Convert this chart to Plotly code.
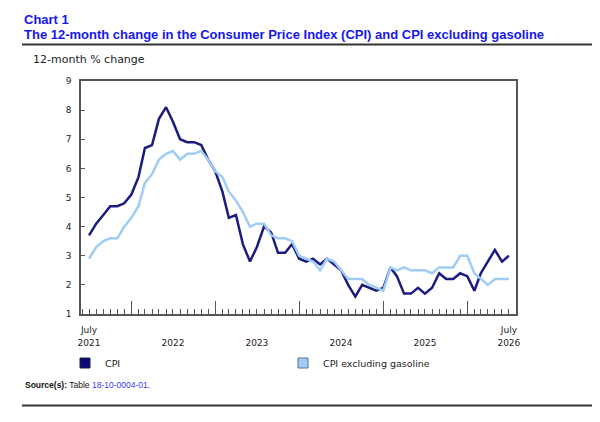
import pandas as pd
import plotly.graph_objects as go

# monthly observations, July 2021 to July 2026
months = pd.date_range("2021-07-01", periods=61, freq="MS")

cpi = [3.7, 4.1, 4.4, 4.7, 4.7, 4.8, 5.1, 5.7, 6.7, 6.8, 7.7, 8.1,
       7.6, 7.0, 6.9, 6.9, 6.8, 6.3, 5.9, 5.2, 4.3, 4.4, 3.4, 2.8,
       3.3, 4.0, 3.8, 3.1, 3.1, 3.4, 2.9, 2.8, 2.9, 2.7, 2.9, 2.7,
       2.5, 2.0, 1.6, 2.0, 1.9, 1.8, 1.9, 2.6, 2.3, 1.7, 1.7, 1.9,
       1.7, 1.9, 2.4, 2.2, 2.2, 2.4, 2.3, 1.8, 2.4, 2.8, 3.2, 2.8,
       3.0]

cpi_ex_gas = [2.9, 3.3, 3.5, 3.6, 3.6, 4.0, 4.3, 4.7, 5.5, 5.8, 6.3, 6.5,
              6.6, 6.3, 6.5, 6.5, 6.6, 6.3, 5.9, 5.7, 5.2, 4.9, 4.5, 4.0,
              4.1, 4.1, 3.7, 3.6, 3.6, 3.5, 3.0, 2.9, 2.8, 2.5, 2.9, 2.8,
              2.5, 2.2, 2.2, 2.2, 2.0, 1.9, 1.8, 2.6, 2.5, 2.6, 2.5, 2.5,
              2.5, 2.4, 2.6, 2.6, 2.6, 3.0, 3.0, 2.4, 2.2, 2.0, 2.2, 2.2,
              2.2]

year_ticks = ["2021-07-01", "2022-07-01", "2023-07-01", "2024-07-01", "2025-07-01", "2026-07-01"]
year_labels = ["2021", "2022", "2023", "2024", "2025", "2026"]
month_ticks = ["2021-07-01", "2026-07-01"]
month_labels = ["July", "July"]
jan_ticks = ["2022-01-01", "2023-01-01", "2024-01-01", "2025-01-01", "2026-01-01"]

DARK = "#1b1b80"
LIGHT = "#9fcdf5"
TITLE_BLUE = "#1616f0"
xrange = ["2021-05-27", "2026-08-01"]

# plot area in screen pixels: x 81..516, y 81..314
# (the page body adds an 8px margin, so the figure itself sits 8px in)
L, R, T, B = 81, 516, 81, 314
OFF = 8


def px_x(px):
    return (px - L) / (R - L)


def px_y(py):
    return (B - py) / (B - T)


fig = go.Figure()
fig.add_trace(go.Scatter(x=months, y=cpi, mode="lines", name="CPI",
                         line=dict(color=DARK, width=2.5), showlegend=False))
fig.add_trace(go.Scatter(x=months, y=cpi_ex_gas, mode="lines", name="CPI excluding gasoline",
                         line=dict(color=LIGHT, width=2.5), showlegend=False, xaxis="x2"))
# legend swatches
fig.add_trace(go.Scatter(x=[None], y=[None], mode="markers", name="CPI", xaxis="x3",
                         marker=dict(symbol="square", size=10, color="#0a0a78",
                                     line=dict(color="#202040", width=1))))
fig.add_trace(go.Scatter(x=[None], y=[None], mode="markers", name="CPI excluding gasoline", xaxis="x3",
                         marker=dict(symbol="square", size=10, color=LIGHT,
                                     line=dict(color="#5a7090", width=1))))

tick_font = dict(family="DejaVu Sans, Verdana", size=9, color="#222")

fig.update_layout(
    width=600, height=422,
    margin=dict(l=L - OFF, r=600 - R + OFF, t=T - OFF, b=422 - B + OFF),
    paper_bgcolor="white", plot_bgcolor="white",
    xaxis=dict(type="date", range=xrange, tickvals=jan_ticks, showticklabels=False,
               ticks="inside", ticklen=13, tickcolor="#555", tickwidth=1,
               minor=dict(dtick="M1", tick0="2021-01-01", ticks="inside", ticklen=5,
                          tickcolor="#555", tickwidth=1, showgrid=False),
               showline=True, linecolor="#555", linewidth=1.5, mirror=True,
               showgrid=False, zeroline=False),
    xaxis2=dict(type="date", range=xrange, overlaying="x", anchor="y", side="bottom",
                tickvals=year_ticks, ticktext=year_labels, ticks="", tickfont=tick_font,
                ticklabelstandoff=22, showline=False, showgrid=False, zeroline=False),
    xaxis3=dict(type="date", range=xrange, overlaying="x", anchor="y", side="bottom",
                tickvals=month_ticks, ticktext=month_labels, ticks="", tickfont=tick_font,
                ticklabelstandoff=9, showline=False, showgrid=False, zeroline=False),
    yaxis=dict(range=[1, 9], dtick=1, ticks="inside", ticklen=4, tickcolor="#555",
               tickfont=tick_font, ticklabelstandoff=6,
               showline=True, linecolor="#555", linewidth=1.5, mirror=True,
               showgrid=False, zeroline=False),
    legend=dict(orientation="h", x=px_x(65), xanchor="left", y=px_y(363), yanchor="middle",
                font=dict(family="DejaVu Sans, Verdana", size=9.5, color="#222"),
                entrywidth=173, entrywidthmode="pixels", itemwidth=30,
                bgcolor="rgba(0,0,0,0)", tracegroupgap=0),
    showlegend=True,
)

title_font = dict(family="Liberation Sans, Arial", size=13, color=TITLE_BLUE)
fig.add_annotation(text="<b>Chart 1</b>", x=px_x(22), y=px_y(19.5), xref="paper", yref="paper",
                   xanchor="left", yanchor="middle", showarrow=False, font=title_font)
fig.add_annotation(text="<b>The 12-month change in the Consumer Price Index (CPI) and CPI excluding gasoline</b>",
                   x=px_x(22), y=px_y(34.5), xref="paper", yref="paper",
                   xanchor="left", yanchor="middle", showarrow=False, font=title_font)
fig.add_annotation(text="12-month % change", x=px_x(31), y=px_y(59), xref="paper", yref="paper",
                   xanchor="left", yanchor="middle", showarrow=False,
                   font=dict(family="DejaVu Sans, Verdana", size=11, color="#222"))
fig.add_annotation(text="<b>Source(s):</b> Table <span style='color:#3a3aff'>18-10-0004-01</span>.",
                   x=px_x(23), y=px_y(385), xref="paper", yref="paper",
                   xanchor="left", yanchor="middle", showarrow=False,
                   font=dict(family="Liberation Sans, Arial", size=8.5, color="#111"))

fig.add_shape(type="line", xref="paper", yref="paper", x0=px_x(22), x1=px_x(610),
              y0=px_y(44.5), y1=px_y(44.5), line=dict(color="#333", width=2))
fig.add_shape(type="line", xref="paper", yref="paper", x0=px_x(22), x1=px_x(610),
              y0=px_y(405.5), y1=px_y(405.5), line=dict(color="#333", width=2))

fig.write_html("out.html")
